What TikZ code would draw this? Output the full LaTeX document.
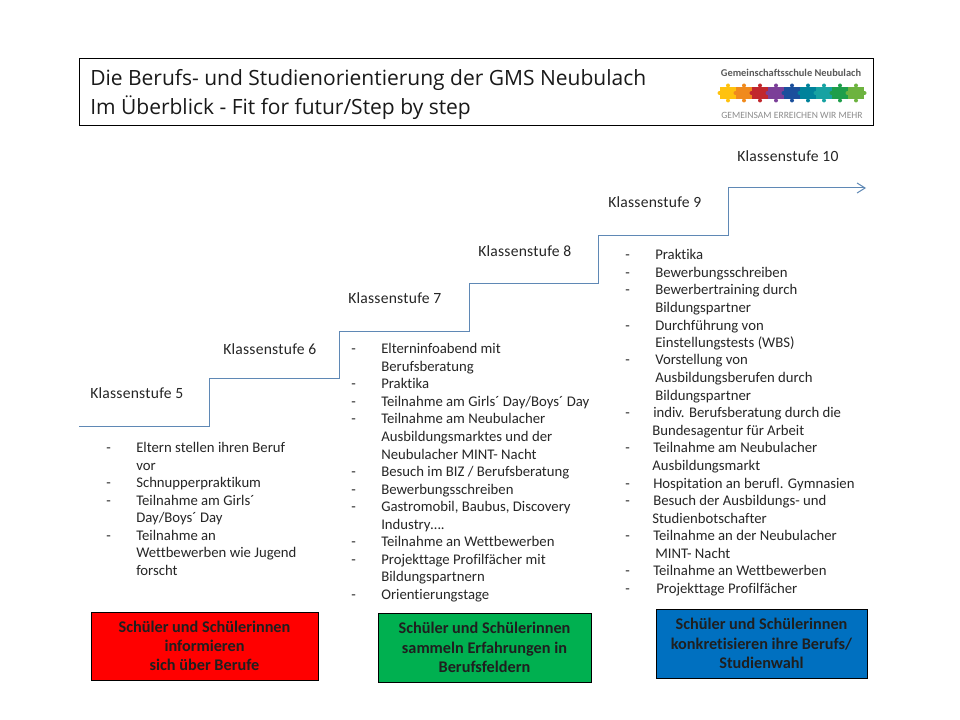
\documentclass[tikz,border=0pt]{standalone}
\usepackage{fontspec}
\setmainfont[Ligatures=NoCommon]{Carlito}
\newfontfamily\titlefont{Open Sans}
\usetikzlibrary{arrows.meta}
\definecolor{stair}{HTML}{5F88B5}
\definecolor{boxred}{HTML}{FF0000}
\definecolor{boxgreen}{HTML}{00B050}
\definecolor{boxblue}{HTML}{0070C0}
\definecolor{logogrey}{HTML}{8C8C8C}
\tikzset{
  x=0.75pt,y=-0.75pt,
  line/.style={anchor=base west,inner sep=0pt,font=\fontsize{11.05pt}{13pt}\selectfont,text=black!85},
  head/.style={anchor=base west,inner sep=0pt,font=\fontsize{11.7pt}{13pt}\selectfont\addfontfeature{LetterSpace=1.5},text=black!85},
  title/.style={anchor=base west,inner sep=0pt,font=\fontsize{15.75pt}{20pt}\titlefont,text=black!90},
  goal/.style={draw=black,line width=0.75pt,align=center,inner sep=0pt,text=black!88,font=\fontsize{12.2pt}{14.4pt}\selectfont\bfseries},
}
\newcommand{\pzl}[3]{% x, y, colour
  \fill[#3] (#1-8,#2-6) rectangle (#1+8,#2+6);
  \fill[#3] (#1,#2-7.5) circle[radius=2];
  \fill[#3] (#1,#2+7.5) circle[radius=2];
  \fill[#3] (#1+8.5,#2) circle[radius=2];
  \fill[#3] (#1-8.5,#2) circle[radius=2];
}
\begin{document}
\begin{tikzpicture}
\useasboundingbox (0,0) rectangle (960,720);
\fill[white] (0,0) rectangle (960,720);
% title frame
\node[draw=black,line width=0.75pt,minimum width=794*0.75pt,minimum height=67*0.75pt,inner sep=0pt] (frame) at (476,92.5) {};
\node[title] (t1) at (90,85.7) {Die Berufs- und Studienorientierung der GMS Neubulach};
\node[title] (t2) at (90,114.7) {Im Überblick - Fit for futur/Step by step};
% logo
\node[anchor=base,inner sep=0pt,font=\fontsize{7.8pt}{9pt}\selectfont\bfseries,text=black!65] (logoa) at (791,77) {Gemeinschaftsschule Neubulach};
\node[anchor=base,inner sep=0pt,font=\fontsize{7.2pt}{9pt}\selectfont,text=logogrey] (logob) at (792,119) {GEMEINSAM ERREICHEN WIR MEHR};
\definecolor{p1}{HTML}{FFC20E}\definecolor{p2}{HTML}{F08A1D}\definecolor{p3}{HTML}{C1272D}
\definecolor{p4}{HTML}{7B3F98}\definecolor{p5}{HTML}{1B4F9C}\definecolor{p6}{HTML}{00829B}
\definecolor{p7}{HTML}{17A2A2}\definecolor{p8}{HTML}{1E9E4A}\definecolor{p9}{HTML}{6DB33F}
\pzl{728}{93}{p1}
\pzl{744}{93}{p2}
\pzl{760}{93}{p3}
\pzl{776}{93}{p4}
\pzl{792}{93}{p5}
\pzl{808}{93}{p6}
\pzl{824}{93}{p7}
\pzl{840}{93}{p8}
\pzl{856}{93}{p9}
% stairs
\coordinate (s0) at (79,426.5);
\coordinate (s1) at (209,426.5);
\coordinate (s2) at (209,378);
\coordinate (s3) at (339.5,378);
\coordinate (s4) at (339.5,331);
\coordinate (s5) at (469.5,331);
\coordinate (s6) at (469.5,283.5);
\coordinate (s7) at (598.5,283.5);
\coordinate (s8) at (598.5,236);
\coordinate (s9) at (728,236);
\coordinate (s10) at (728,188);
\coordinate (s11) at (866,188);
\draw[stair,line width=0.75pt,-{Straight Barb[length=6pt,width=7.5pt]}] (s0)--(s1)--(s2)--(s3)--(s4)--(s5)--(s6)--(s7)--(s8)--(s9)--(s10)--(s11);
% step labels
\node[head] (k5) at (90,398.7) {Klassenstufe 5};
\node[head] (k6) at (223,354.7) {Klassenstufe 6};
\node[head] (k7) at (348,303.7) {Klassenstufe 7};
\node[head] (k8) at (478,256.7) {Klassenstufe 8};
\node[head] (k9) at (608,207.7) {Klassenstufe 9};
\node[head] (k10) at (737,161.7) {Klassenstufe 10};
% lists
\foreach \i/\dx/\tx/\y/\d/\s in {
 a1/106/136/452/1/{Eltern stellen ihren Beruf},
 a2/106/136/470/0/vor,
 a3/106/136/487/1/Schnupperpraktikum,
 a4/106/136/505/1/{Teilnahme am Girls´},
 a5/106/136/522/0/{Day/Boys´ Day},
 a6/106/136/540/1/{Teilnahme an},
 a7/106/136/557/0/{Wettbewerben wie Jugend},
 a8/106/136/575/0/forscht,
 b1/351/381/353/1/{Elterninfoabend mit},
 b2/351/381/371/0/Berufsberatung,
 b3/351/381/388/1/Praktika,
 b4/351/381/406/1/{Teilnahme am Girls´ Day/Boys´ Day},
 b5/351/381/423/1/{Teilnahme am Neubulacher},
 b6/351/381/441/0/{Ausbildungsmarktes und der},
 b7/351/381/459/0/{Neubulacher MINT- Nacht},
 b8/351/381/476/1/{Besuch im BIZ / Berufsberatung},
 b9/351/381/494/1/Bewerbungsschreiben,
 b10/351/381/511/1/{Gastromobil, Baubus, Discovery},
 b11/351/381/529/0/{Industry….},
 b12/351/381/546/1/{Teilnahme an Wettbewerben},
 b13/351/381/564/1/{Projekttage Profilfächer mit},
 b14/351/381/581/0/{Bildungspartnern},
 b15/351/381/599/1/Orientierungstage,
 c1/625/655/260/1/Praktika,
 c2/625/655/277/1/Bewerbungsschreiben,
 c3/625/655/295/1/{Bewerbertraining durch},
 c4/625/655/312/0/Bildungspartner,
 c5/625/655/330/1/{Durchführung von},
 c6/625/655/347/0/{Einstellungstests (WBS)},
 c7/625/655/364.5/1/{Vorstellung von},
 c8/625/655/382/0/{Ausbildungsberufen durch},
 c9/625/655/400/0/Bildungspartner,
 c10/625/653/417/1/{indiv. Berufsberatung durch die},
 c11/625/652/435/0/{Bundesagentur für Arbeit},
 c12/625/653/452/1/{Teilnahme am Neubulacher},
 c13/625/652/470/0/Ausbildungsmarkt,
 c14/625/653/488/1/{Hospitation an berufl. Gymnasien},
 c15/625/653/505/1/{Besuch der Ausbildungs- und},
 c16/625/652/523/0/Studienbotschafter,
 c17/625/653/540/1/{Teilnahme an der Neubulacher},
 c18/625/655/558/0/{MINT- Nacht},
 c19/625/653/575/1/{Teilnahme an Wettbewerben},
 c20/625/656/593/1/{Projekttage Profilfächer}}{
  \node[line] (\i) at (\tx,\y) {\s};
  \ifnum\d=1 \node[line] (\i d) at (\dx,\y) {-};\fi
}
% goal boxes
\node[goal,fill=boxred,minimum width=227*0.75pt,minimum height=68*0.75pt] (g1) at (204.5,646) {Schüler und Schülerinnen\\informieren\\sich über Berufe};
\node[goal,fill=boxgreen,minimum width=213*0.75pt,minimum height=69*0.75pt] (g2) at (484.5,647.5) {Schüler und Schülerinnen\\sammeln Erfahrungen in\\Berufsfeldern};
\node[goal,fill=boxblue,minimum width=211*0.75pt,minimum height=69*0.75pt] (g3) at (761.5,643.5) {Schüler und Schülerinnen\\konkretisieren ihre Berufs/\\Studienwahl};
\end{tikzpicture}
\end{document}
